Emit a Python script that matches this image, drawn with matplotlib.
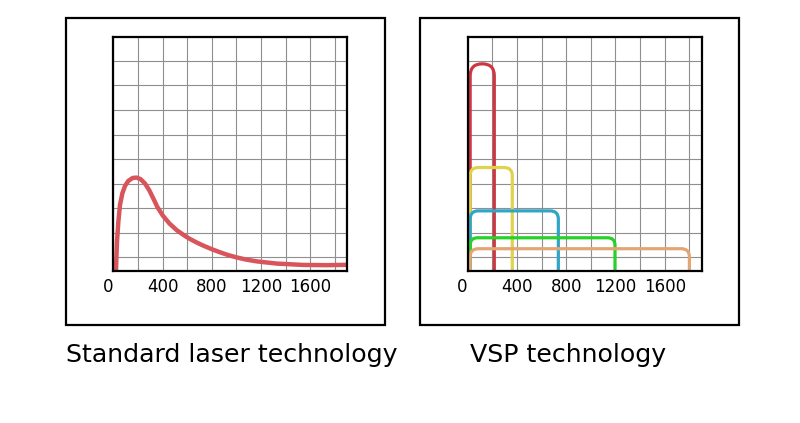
import matplotlib

matplotlib.use("Agg")
import matplotlib.pyplot as plt
from matplotlib.patches import FancyBboxPatch, Rectangle

plt.rcParams.update({"font.family": "DejaVu Sans"})

# ---------------------------------------------------------------------------
# Data (x in the axis units, y in the same grid units, 200 per cell)
# ---------------------------------------------------------------------------

TICK_LABELS = ["0", "", "400", "", "800", "", "1200", "", "1600", ""]
GRID_X = [0, 200, 400, 600, 800, 1000, 1200, 1400, 1600, 1800]
GRID_Y = [108, 308, 508, 708, 908, 1108, 1308, 1508, 1708]

# standard laser pulse shape
std_x = [22, 25, 30, 41, 54, 73, 95, 122, 157, 190, 222, 257, 292, 325,
         357, 401, 455, 515, 582, 623, 680, 731, 800, 866, 930, 1002,
         1080, 1164, 1327, 1543, 1733, 1900]
std_y = [0, 101, 236, 398, 533, 628, 690, 731, 755, 758, 745, 710, 655, 588,
         520, 450, 385, 330, 283, 258, 228, 204, 175, 150, 128, 108,
         90, 76, 58, 47, 45, 48]

# VSP pulses: left edge, right edge, top, corner radius
vsp_left = [20, 20, 20, 20, 20]
vsp_right = [216, 362, 736, 1196, 1800]
vsp_top = [1684, 840, 487, 268, 179]
vsp_radius = [98, 66, 66, 60, 66]
vsp_colors = ["#cc3742", "#e0d24c", "#2fa5c8", "#27d127", "#e2a674"]

TITLES = ["Standard laser technology", "VSP technology"]

# ---------------------------------------------------------------------------
# Figure
# ---------------------------------------------------------------------------
W, H = 800, 423
fig = plt.figure(figsize=(8, 4.23), dpi=100)


def fx(px):
    return px / W


def fy(py):
    return 1 - py / H


# outer frames
for x0, x1 in [(65.7, 385), (420, 739)]:
    fig.patches.append(
        Rectangle((fx(x0), fy(325)), fx(x1 - x0), (325 - 18.3) / H,
                  transform=fig.transFigure, fill=False, ec="black", lw=1.6)
    )


def setup(ax):
    ax.set_xlim(0, 1900)
    ax.set_ylim(0, 1900)
    ax.set_xticks(GRID_X)
    ax.set_xticklabels(TICK_LABELS, fontsize=12)
    ax.set_yticks(GRID_Y)
    ax.set_yticklabels([])
    ax.tick_params(length=0, pad=5)
    ax.get_xticklabels()[0].set_horizontalalignment("right")
    ax.grid(True, color="#8f8f8f", lw=0.8)
    ax.set_axisbelow(True)
    for s in ax.spines.values():
        s.set_linewidth(1.6)
        s.set_zorder(5)


ax_w, ax_h = 234, 233.4
ax1 = fig.add_axes([fx(113.3), fy(270.7), ax_w / W, ax_h / H])
ax2 = fig.add_axes([fx(467.7), fy(270.7), ax_w / W, ax_h / H])

setup(ax1)
ax1.plot(std_x, std_y, color="#d8565b", lw=3.2, solid_joinstyle="round",
         solid_capstyle="butt")

setup(ax2)
for xl, xr, top, r, c in zip(vsp_left, vsp_right, vsp_top, vsp_radius, vsp_colors):
    ax2.add_patch(
        FancyBboxPatch((xl, -400), xr - xl, top + 400,
                       boxstyle=f"round,pad=0,rounding_size={r}",
                       fill=False, ec=c, lw=2.3, zorder=3)
    )

fig.text(fx(66), fy(362), TITLES[0], fontsize=18.2, va="baseline", ha="left")
fig.text(fx(470), fy(362), TITLES[1], fontsize=18.2, va="baseline", ha="left")

fig.savefig("out.png", dpi=100)
